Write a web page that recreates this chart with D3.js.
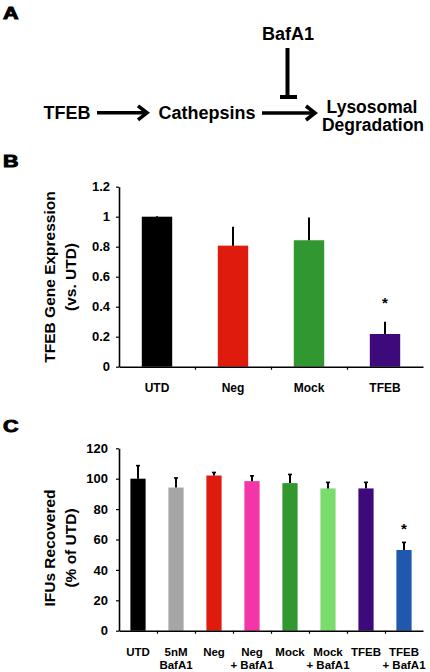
<!DOCTYPE html>
<html>
<head>
<meta charset="utf-8">
<script src="https://cdn.jsdelivr.net/npm/d3@7"></script>
<style>
  html, body { margin: 0; padding: 0; background: #fff; }
  svg { display: block; }
  text { font-family: "Liberation Sans", Arial, Helvetica, sans-serif; font-weight: bold; fill: #000; }
</style>
</head>
<body>
<svg id="chart" width="430" height="672"></svg>
<script>
// ---------- Data ----------
// Panel A diagram
const diagramNodes = ["TFEB", "Cathepsins", "Lysosomal", "Degradation"];
const inhibitorLabel = "BafA1";

// Panel B
const catsB = ["UTD", "Neg", "Mock", "TFEB"];
const valuesB = [1.0, 0.807, 0.843, 0.218];
const errB = [0.005, 0.126, 0.152, 0.082];
const colorsB = ["#000000", "#de1b0c", "#319731", "#3e0a7b"];
const yTickValsB = [0, 0.2, 0.4, 0.6, 0.8, 1, 1.2];
const yTickLabelsB = ["0", "0.2", "0.4", "0.6", "0.8", "1", "1.2"];
const sigB = [false, false, false, true];

// Panel C
const catsC = [["UTD"], ["5nM", "BafA1"], ["Neg"], ["Neg", "+ BafA1"], ["Mock"], ["Mock", "+ BafA1"], ["TFEB"], ["TFEB", "+ BafA1"]];
const valuesC = [100, 94.2, 102.1, 98.4, 97.1, 93.6, 93.6, 53.1];
const errC = [8.6, 6.3, 2.0, 3.5, 5.7, 4.0, 4.0, 5.0];
const colorsC = ["#000000", "#a6a6a6", "#de1b0c", "#f335a8", "#319731", "#7bdc6e", "#3e0a7b", "#1f58ad"];
const yTickValsC = [0, 20, 40, 60, 80, 100, 120];
const yTickLabelsC = ["0", "20", "40", "60", "80", "100", "120"];
const sigC = [false, false, false, false, false, false, false, true];

// ---------- Drawing ----------
const svg = d3.select("#chart");

function panelLetter(letter, x, y) {
  svg.append("text")
    .attr("transform", `translate(${x},${y}) scale(1.35,1)`)
    .attr("font-size", 16)
    .attr("stroke", "#000").attr("stroke-width", 0.9)
    .text(letter);
}

// ---- Panel A ----
panelLetter("A", 3, 19);
const gA = svg.append("g");
gA.append("text").attr("x", 67).attr("y", 118.5).attr("text-anchor", "middle").attr("font-size", 18).text(diagramNodes[0]);
gA.append("text").attr("x", 207).attr("y", 118.5).attr("text-anchor", "middle").attr("font-size", 18).text(diagramNodes[1]);
gA.append("text").attr("x", 372).attr("y", 112.5).attr("text-anchor", "middle").attr("font-size", 17.5).text(diagramNodes[2]);
gA.append("text").attr("x", 373).attr("y", 131).attr("text-anchor", "middle").attr("font-size", 17.5).text(diagramNodes[3]);
gA.append("text").attr("x", 288).attr("y", 39.5).attr("text-anchor", "middle").attr("font-size", 18).text(inhibitorLabel);

function arrow(x1, x2, y) {
  gA.append("line").attr("x1", x1).attr("x2", x2 - 2).attr("y1", y).attr("y2", y)
    .attr("stroke", "#000").attr("stroke-width", 3.6);
  gA.append("path").attr("d", `M${x2 - 9},${y - 7} L${x2},${y} L${x2 - 9},${y + 7}`)
    .attr("fill", "none").attr("stroke", "#000").attr("stroke-width", 3.6).attr("stroke-linejoin", "miter");
}
arrow(97, 147, 112.8);
arrow(262, 315, 113);
gA.append("line").attr("x1", 287.5).attr("x2", 287.5).attr("y1", 48).attr("y2", 97)
  .attr("stroke", "#000").attr("stroke-width", 4);
gA.append("line").attr("x1", 280).attr("x2", 297).attr("y1", 97).attr("y2", 97)
  .attr("stroke", "#000").attr("stroke-width", 4);

// ---- Generic bar panel ----
function barPanel(opts) {
  const g = svg.append("g");
  const n = opts.values.length;
  const x = d3.scaleBand().domain(d3.range(n)).range([opts.x0, opts.x1]).padding(0);
  const xl = d3.scaleLinear().domain([0, n]).range([opts.x0, opts.x1]);
  const y = d3.scaleLinear().domain(opts.yDomain).range([opts.yBottom, opts.yTop]);
  const bw = x.bandwidth() * 0.4;

  // bars
  g.selectAll("rect.bar").data(opts.values).join("rect")
    .attr("x", (d, i) => x(i) + x.bandwidth() / 2 - bw / 2)
    .attr("width", bw)
    .attr("y", d => y(d))
    .attr("height", d => y(opts.yDomain[0]) - y(d))
    .attr("fill", (d, i) => opts.colors[i]);

  // error bars (upper only)
  const capW = opts.capW;
  opts.values.forEach((v, i) => {
    const cx = x(i) + x.bandwidth() / 2;
    g.append("line").attr("x1", cx).attr("x2", cx).attr("y1", y(v)).attr("y2", y(v + opts.err[i]))
      .attr("stroke", "#000").attr("stroke-width", 2);
    if (capW > 0) {
      g.append("line").attr("x1", cx - capW / 2).attr("x2", cx + capW / 2)
        .attr("y1", y(v + opts.err[i])).attr("y2", y(v + opts.err[i]))
        .attr("stroke", "#000").attr("stroke-width", 1.6);
    }
    if (opts.sig[i]) {
      g.append("text").attr("x", cx).attr("y", y(v + opts.err[i]) - opts.starGap)
        .attr("text-anchor", "middle").attr("font-size", opts.starSize).text("*");
    }
  });

  // y axis
  const yAxis = d3.axisLeft(y).tickValues(opts.yTicks)
    .tickFormat((d, i) => opts.yTickLabels[i]).tickSize(3).tickSizeOuter(0).tickPadding(opts.yPad);
  const ya = g.append("g").attr("transform", `translate(${opts.x0},0)`).call(yAxis);
  ya.select(".domain").attr("stroke-width", 1.6);
  ya.selectAll(".tick line").attr("stroke-width", 1.2);
  ya.selectAll(".tick text").attr("font-size", 13).attr("font-family", null).attr("fill", "#000");

  // x axis (boundary ticks only)
  const xAxis = d3.axisBottom(xl).tickValues(d3.range(1, n)).tickFormat("").tickSize(3).tickSizeOuter(0);
  const xa = g.append("g").attr("transform", `translate(0,${opts.yBottom})`).call(xAxis);
  xa.select(".domain").attr("stroke-width", 1.6);
  xa.selectAll(".tick line").attr("stroke-width", 1.2);

  // category labels
  opts.cats.forEach((lines, i) => {
    const cx = x(i) + x.bandwidth() / 2;
    const t = g.append("text").attr("text-anchor", "middle").attr("font-size", opts.labelSize);
    (Array.isArray(lines) ? lines : [lines]).forEach((s, k) => {
      t.append("tspan").attr("x", cx).attr("y", opts.labelY + k * opts.lineGap).text(s);
    });
  });

  // y title
  opts.title.forEach((s, k) => {
    g.append("text")
      .attr("transform", `translate(${opts.titleX[k]},${opts.titleY}) rotate(-90)`)
      .attr("text-anchor", "middle").attr("dominant-baseline", "central")
      .attr("font-size", 15.5).text(s);
  });
}

// ---- Panel B ----
panelLetter("B", 3, 167);
barPanel({
  values: valuesB, err: errB, colors: colorsB, sig: sigB,
  cats: catsB, yTicks: yTickValsB, yTickLabels: yTickLabelsB,
  x0: 119, x1: 423, yDomain: [0, 1.2], yBottom: 366.7, yTop: 186.7,
  yPad: 6, capW: 0, starGap: 14, starSize: 15,
  labelY: 391.5, lineGap: 12.3, labelSize: 12,
  title: ["TFEB Gene Expression", "(vs. UTD)"], titleX: [49, 70], titleY: 277
});

// ---- Panel C ----
panelLetter("C", 3, 432);
barPanel({
  values: valuesC, err: errC, colors: colorsC, sig: sigC,
  cats: catsC, yTicks: yTickValsC, yTickLabels: yTickLabelsC,
  x0: 119, x1: 423, yDomain: [0, 120], yBottom: 630.7, yTop: 448.3,
  yPad: 8, capW: 4, starGap: 8, starSize: 15,
  labelY: 655.5, lineGap: 13.3, labelSize: 11.5,
  title: ["IFUs Recovered", "(% of UTD)"], titleX: [49, 70], titleY: 548
});
</script>
</body>
</html>
